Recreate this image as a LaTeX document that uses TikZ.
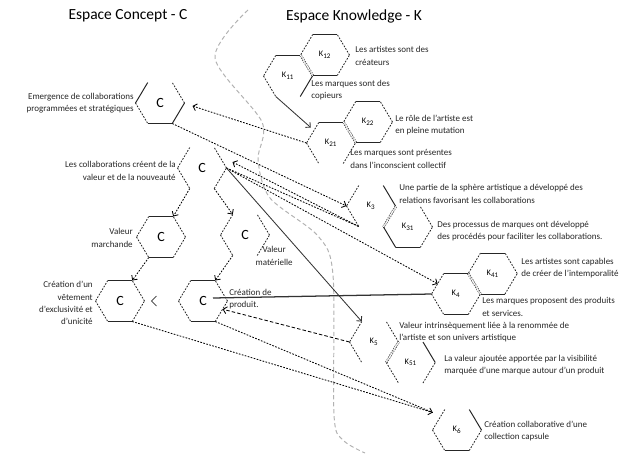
\documentclass[tikz,border=0pt]{standalone}
\usepackage{fontspec}
\setmainfont{Carlito}
\usetikzlibrary{calc,arrows.meta}
\def\hw{24.5}
\def\hh{20.5}
% hexagon: centre, name, label, then the six sides (upper right, top, upper left, lower left, bottom, lower right)
\def\hexa(#1)#2#3#4#5#6#7#8#9{%
	\node[hexlbl] (#2) at (#1) {#3};
	\coordinate (#2-1) at ($(#1)+(\hw,0)$);
	\coordinate (#2-2) at ($(#1)+(\hw/2,-\hh)$);
	\coordinate (#2-3) at ($(#1)+(-\hw/2,-\hh)$);
	\coordinate (#2-4) at ($(#1)+(-\hw,0)$);
	\coordinate (#2-5) at ($(#1)+(-\hw/2,\hh)$);
	\coordinate (#2-6) at ($(#1)+(\hw/2,\hh)$);
	\draw[#4] (#2-1) -- (#2-2);
	\draw[#5] (#2-2) -- (#2-3);
	\draw[#6] (#2-3) -- (#2-4);
	\draw[#7] (#2-4) -- (#2-5);
	\draw[#8] (#2-5) -- (#2-6);
	\draw[#9] (#2-6) -- (#2-1);
}
\def\kk#1{{\fontsize{6}{6}\selectfont K\textsubscript{#1}}}

\begin{document}
\begin{tikzpicture}[x=0.025cm,y=-0.025cm,
	es/.style={draw=black!85, line width=0.7pt},
	ed/.style={draw=black!85, line width=0.6pt, dash pattern=on 1.2pt off 1pt},
	eh/.style={draw=black!85, line width=0.4pt, double, double distance=0.9pt, dash pattern=on 1pt off 0.8pt},
	en/.style={draw=none},
	hexlbl/.style={font=\fontsize{10}{10}\selectfont, inner sep=0pt},
	txt/.style={font=\fontsize{6.4}{8.7}\selectfont, inner sep=0pt, anchor=west, align=left, text=black!85},
	title/.style={font=\fontsize{11}{11}\selectfont},
	arr/.style={-{Straight Barb[length=2.5pt,width=5pt]}},
	dotline/.style={line width=0.6pt, dash pattern=on 1.2pt off 1pt},
	dashline/.style={line width=0.6pt, dash pattern=on 2.5pt off 1.5pt},
	solidline/.style={line width=0.6pt, black!80},
	divide/.style={black!30, line width=0.7pt, dash pattern=on 3pt off 2pt}]
	\useasboundingbox (0,0) rectangle (631,454);
	
	%%%%% titles
	\node[title] (tC) at (128,16) {Espace Concept - C};
	\node[title] (tK) at (354,16) {Espace Knowledge - K};
	
	% border between C and K
	\draw[divide] plot[smooth, tension=0.5] coordinates {(248,10) (215,58) (262,122) (258,160) (270,198) (318,236) (333,275) (334,415) (343,440) (365,453)};
	
	%%%%% C space
	\hexa(160,103){Ca}{C}{ed}{en}{es}{ed}{es}{es}
	\hexa(202,168){Cb}{C}{ed}{en}{ed}{ed}{en}{ed}
	\hexa(161,237){Cc}{C}{ed}{es}{ed}{ed}{es}{ed}
	\hexa(245,235){Cd}{C}{ed}{en}{ed}{ed}{en}{ed}
	\hexa(120,301){Ce}{C}{ed}{es}{ed}{ed}{es}{ed}
	\hexa(203,301){Cf}{C}{ed}{es}{ed}{ed}{es}{ed}
	
	\node[txt, anchor=east, align=right] (tCa) at (134,103) {Emergence de collaborations\\programmées et stratégiques};
	\node[txt, anchor=east, align=right] (tCb) at (176,171) {Les collaborations créent de la\\valeur et de la nouveauté};
	\node[txt, anchor=east, align=right] (tCc) at (133,238) {Valeur\\marchande};
	\node[txt, anchor=east, align=center] (tCd) at (293,256) {Valeur\\matérielle};
	\node[txt, anchor=east, align=right] (tCe) at (93,303) {Création d'un\\vêtement\\d'exclusivité et\\d'unicité};
	\node[txt] (tCf) at (229,299) {Création de\\produit.};
	
	%%%%% K space
	\hexa(288,76){Kb}{\kk{11}}{en}{es}{ed}{ed}{en}{es}
	\hexa(325,55){Ka}{\kk{12}}{ed}{es}{ed}{eh}{es}{ed}
	\hexa(331,143){Kd}{\kk{21}}{en}{es}{ed}{ed}{en}{ed}
	\hexa(368,122){Ke}{\kk{22}}{ed}{es}{ed}{eh}{es}{ed}
	\hexa(371,206){Kc}{\kk{3}}{es}{en}{ed}{ed}{en}{en}
	\hexa(408,227){Kc2}{\kk{31}}{ed}{en}{eh}{es}{es}{ed}
	\hexa(456,294){Kf}{\kk{4}}{eh}{es}{ed}{ed}{es}{ed}
	\hexa(492.75,273.5){Kf2}{\kk{41}}{ed}{es}{ed}{en}{es}{ed}
	\hexa(374,342){Kg}{\kk{5}}{ed}{en}{ed}{ed}{en}{eh}
	\hexa(410.75,362.5){Kg2}{\kk{51}}{es}{en}{en}{ed}{en}{ed}
	\hexa(457,430){Kh}{\kk{6}}{es}{en}{ed}{ed}{es}{ed}
	
	\node[txt] (tKa) at (355,56) {Les artistes sont des\\créateurs};
	\node[txt] (tKb) at (311,90) {Les marques sont des\\copieurs};
	\node[txt] (tKe) at (395,125) {Le rôle de l'artiste est\\en pleine mutation};
	\node[txt] (tKd) at (350,159) {Les marques sont présentes\\dans l'inconscient collectif};
	\node[txt] (tKc) at (399,194) {Une partie de la sphère artistique a développé des\\relations favorisant les collaborations};
	\node[txt] (tKc2) at (437,231) {Des processus de marques ont développé\\des procédés pour faciliter les collaborations.};
	\node[txt] (tKf2) at (521,268) {Les artistes sont capables\\de créer de l'intemporalité};
	\node[txt] (tKf) at (482,307) {Les marques proposent des produits\\et services.};
	\node[txt] (tKg) at (399,332) {Valeur intrinsèquement liée à la renommée de\\l'artiste et son univers artistique};
	\node[txt] (tKg2) at (444,365) {La valeur ajoutée apportée par la visibilité\\marquée d'une marque autour d'un produit};
	\node[txt] (tKh) at (484,431) {Création collaborative d'une\\collection capsule};
	
	%%%%% links
	\draw[dotline,arr] (Cb-5) -- (Cc-2);
	\draw[dotline,arr] (Cb-6) -- (Cd-3);
	\draw[dotline,arr] (Cc-5) -- (Ce-2);
	\draw[dotline,arr] (Cd-5) -- (Cf-2);
	\draw ($(Ce-1)+(12,-5)$) -- ($(Ce-1)+(7,0)$) -- ($(Ce-1)+(12,5)$);
	
	\draw[dotline,arr] (Ca-6) -- (Kc-4);
	\draw[dotline,arr] (Kd-4) -- ($(Ca-1)+(8,3)$);
	\draw[solidline,arr] (Kb-5) -- ($(Kd-3)+(-8,5)$);
	\draw[dotline,arr] (Kc-5) -- ($(Cb-1)+(6,-6)$);
	\draw[dotline] (Cb-1) -- (Kc-5);
	\draw[dotline,arr] (Cb-1) -- ($(Kf-3)!0.5!(Kf-4)$);
	\draw[solidline,arr] (Cb-1) -- (Kg-3);
	\draw[solidline, line width=0.9pt] ($(Cf)+(10,-3)$) -- (Kf-4);
	\draw[dashline,arr] (Kg-4) -- ($(Cf-6)!0.6!(Cf-1)$);
	\coordinate (inKh) at ($(Kh-3)+(-12,3)$);
	\draw[dotline,arr] (Ce-6) -- (inKh);
	\draw[dotline] (Cf-6) -- (inKh);
\end{tikzpicture}
\end{document}
